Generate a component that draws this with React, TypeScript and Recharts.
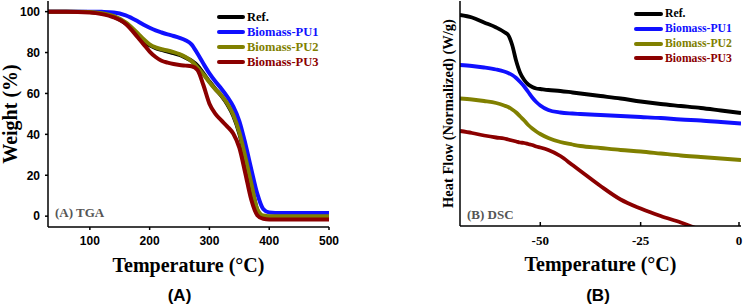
import React from "react";
import { LineChart, Line, XAxis, YAxis, Legend } from "recharts";

// TGA: weight (%) vs temperature (°C)
const tgaTemps = [30, 60, 100, 120, 140, 160, 180, 190, 200, 210, 220, 230, 240, 250, 260, 270, 280, 290, 300, 310, 320, 330, 340, 350, 360, 370, 380, 390, 400, 420, 500];
const tgaRef = [100, 100, 99.8, 99.2, 97.6, 94.3, 88.8, 85.6, 83.5, 82.2, 81.3, 80.5, 79.7, 78.8, 77.5, 76, 73.6, 69.8, 65.8, 62.2, 58.8, 54.6, 49, 40.5, 28.5, 15.5, 3, -0.5, -0.9, -0.9, -0.9];
const tgaPU1 = [100, 100, 100, 99.9, 99.6, 98.2, 95.3, 93.6, 92.1, 90.8, 89.8, 88.9, 88.1, 87.2, 86, 84, 79.5, 74.5, 69.8, 65.8, 62.3, 58.3, 53.5, 46.5, 35.5, 23, 11, 3.5, 1.8, 1.5, 1.5];
const tgaPU2 = [100, 100, 99.8, 99.2, 97.8, 94.8, 89.5, 86.5, 84, 82.5, 81.6, 81, 80.2, 79.2, 77.8, 75.8, 72.8, 69.3, 65.5, 62, 59, 55, 49.5, 41, 29, 16, 3.5, 0.3, 0, 0, 0];
const tgaPU3 = [100, 100, 99.6, 98.8, 97.2, 94, 87.5, 84, 80.5, 77.8, 76, 75.1, 74.4, 73.9, 73.6, 73.3, 71.5, 64, 55, 50, 46.8, 43.8, 40.3, 33.5, 21, 8, 0.5, -1.3, -1.6, -1.6, -1.6];
const tgaXTicks = [100, 200, 300, 400, 500];
const tgaYTicks = [0, 20, 40, 60, 80, 100];

// DSC: heat flow (normalized, arbitrary offset) vs temperature (°C)
const dscTemps = [-70, -67, -64, -61, -59, -58, -57, -56, -55, -54, -53, -52, -51, -50, -48, -45, -42, -40, -35, -30, -25, -20, -15, -10, -5, 0];
const dscRef = [4.22, 4.17, 4.07, 3.97, 3.88, 3.82, 3.62, 3.3, 3.06, 2.92, 2.83, 2.78, 2.75, 2.74, 2.72, 2.7, 2.67, 2.65, 2.6, 2.55, 2.49, 2.44, 2.4, 2.36, 2.31, 2.26];
const dscPU1 = [3.22, 3.2, 3.17, 3.13, 3.09, 3.06, 3.02, 2.96, 2.88, 2.79, 2.68, 2.57, 2.48, 2.41, 2.32, 2.27, 2.25, 2.24, 2.22, 2.2, 2.18, 2.16, 2.13, 2.11, 2.08, 2.05];
const dscPU2 = [2.55, 2.53, 2.5, 2.46, 2.41, 2.38, 2.33, 2.27, 2.19, 2.11, 2.02, 1.95, 1.89, 1.84, 1.76, 1.68, 1.63, 1.6, 1.56, 1.52, 1.49, 1.45, 1.41, 1.38, 1.35, 1.32];
const dscPU3 = [1.9, 1.86, 1.81, 1.77, 1.75, 1.73, 1.71, 1.69, 1.67, 1.66, 1.64, 1.62, 1.59, 1.57, 1.52, 1.4, 1.22, 1.1, 0.8, 0.53, 0.35, 0.2, 0.07, -0.08, null, null];
const dscXTicks = [-50, -25, 0];

const seriesNames = ["Ref.", "Biomass-PU1", "Biomass-PU2", "Biomass-PU3"];
const seriesKeys = ["ref", "pu1", "pu2", "pu3"];
const seriesColors = ["#000000", "#1010ff", "#808000", "#8b0000"];

const tgaData = tgaTemps.map((t, i) => ({ t, ref: tgaRef[i], pu1: tgaPU1[i], pu2: tgaPU2[i], pu3: tgaPU3[i] }));
const dscData = dscTemps.map((t, i) => ({ t, ref: dscRef[i], pu1: dscPU1[i], pu2: dscPU2[i], pu3: dscPU3[i] }));

const serif = "'Liberation Serif', 'Times New Roman', serif";
const sans = "'Liberation Sans', Arial, sans-serif";
const axisStroke = { stroke: "#000", strokeWidth: 1.5 };

// legend in series order (Ref. first), not sorted by name
function makeLegend(lineW: number, rowH: number, fontSize: number) {
  return () => (
    <div>
      {seriesNames.map((name, i) => (
        <div key={name} style={{ display: "flex", alignItems: "center", height: rowH }}>
          <span style={{ display: "inline-block", width: lineW, height: 4, borderRadius: 2, background: seriesColors[i], marginRight: 2 }} />
          <span style={{ fontFamily: serif, fontWeight: "bold", fontSize, color: seriesColors[i], lineHeight: 1 }}>{name}</span>
        </div>
      ))}
    </div>
  );
}

function DscTick({ x, y, payload }: any) {
  return (
    <g>
      <line x1={x} x2={x} y1={y} y2={y - 4} stroke="#000" strokeWidth={1.5} />
      <text x={x} y={y + 18.5} textAnchor="middle" fontFamily={serif} fontWeight="bold" fontSize={13} fill="#000">
        {payload.value}
      </text>
    </g>
  );
}

function Note({ text, left, cy, size, family, color, center }: any) {
  return (
    <div
      style={{
        position: "absolute",
        left: center ? left - 50 : left,
        width: center ? 100 : undefined,
        textAlign: center ? "center" : "left",
        top: cy - size / 2,
        fontFamily: family,
        fontWeight: "bold",
        fontSize: size,
        lineHeight: 1,
        color,
        whiteSpace: "nowrap",
      }}
    >
      {text}
    </div>
  );
}

export default function App() {
  return (
    <div style={{ position: "fixed", left: 0, top: 0, width: 743, height: 304, background: "#fff", overflow: "hidden" }}>
      <div style={{ position: "absolute", left: 0, top: 0 }}>
        <LineChart width={370} height={304} data={tgaData} margin={{ top: 1, right: 41, bottom: 47, left: 0 }}>
          <XAxis
            dataKey="t"
            type="number"
            domain={[30, 500]}
            ticks={tgaXTicks}
            allowDataOverflow
            height={30}
            tickSize={3}
            tickMargin={6}
            axisLine={axisStroke}
            tickLine={axisStroke}
            tick={{ fill: "#000", fontSize: 12, fontWeight: "bold", fontFamily: sans }}
            label={{ value: "Temperature (°C)", position: "bottom", offset: 1, style: { fontFamily: serif, fontWeight: "bold", fontSize: 20, fill: "#000" } }}
          />
          <XAxis xAxisId="top" orientation="top" type="number" domain={[0, 1]} height={0} tick={false} tickLine={false} axisLine={axisStroke} />
          <YAxis
            type="number"
            domain={[-5.3, 105.2]}
            ticks={tgaYTicks}
            allowDataOverflow
            width={48}
            tickSize={3}
            tickMargin={5}
            axisLine={axisStroke}
            tickLine={axisStroke}
            tick={{ fill: "#000", fontSize: 12, fontWeight: "bold", fontFamily: sans }}
            label={{ value: "Weight (%)", angle: -90, position: "insideLeft", offset: 10, style: { textAnchor: "middle", fontFamily: serif, fontWeight: "bold", fontSize: 20, fill: "#000" } }}
          />
          <YAxis yAxisId="right" orientation="right" type="number" domain={[0, 1]} width={0} tick={false} tickLine={false} axisLine={axisStroke} />
          <Legend
            layout="vertical"
            align="center"
            verticalAlign="middle"
            wrapperStyle={{ left: 217, top: 9.5, width: 120 }}
            content={makeLegend(28, 15, 12.5)}
          />
          {seriesKeys.map((k, i) => (
            <Line key={k} dataKey={k} name={seriesNames[i]} type="monotone" stroke={seriesColors[i]} strokeWidth={4} dot={false} isAnimationActive={false} />
          ))}
        </LineChart>
      </div>
      <div style={{ position: "absolute", left: 370, top: 0 }}>
        <LineChart width={373} height={304} data={dscData} margin={{ top: 1, right: 2, bottom: 48, left: 0 }}>
          <XAxis
            dataKey="t"
            type="number"
            domain={[-70, 0]}
            ticks={dscXTicks}
            allowDataOverflow
            height={30}
            tickSize={0}
            tickMargin={0}
            axisLine={axisStroke}
            tickLine={false}
            tick={<DscTick />}
            label={{ value: "Temperature (°C)", position: "bottom", offset: 1, style: { fontFamily: serif, fontWeight: "bold", fontSize: 20, fill: "#000" } }}
          />
          <XAxis xAxisId="top" orientation="top" type="number" domain={[0, 1]} height={0} tick={false} tickLine={false} axisLine={axisStroke} />
          <YAxis
            type="number"
            domain={[0, 4.5]}
            allowDataOverflow
            width={90}
            tick={false}
            tickLine={false}
            axisLine={axisStroke}
            label={{ value: "Heat Flow (Normalized) (W/g)", angle: -90, position: "insideLeft", offset: 78, style: { textAnchor: "middle", fontFamily: serif, fontWeight: "bold", fontSize: 14.5, fill: "#000" } }}
          />
          <YAxis yAxisId="right" orientation="right" type="number" domain={[0, 1]} width={0} tick={false} tickLine={false} axisLine={axisStroke} />
          <Legend
            layout="vertical"
            align="center"
            verticalAlign="middle"
            wrapperStyle={{ left: 264, top: 7, width: 110 }}
            content={makeLegend(29, 14.7, 11.7)}
          />
          {seriesKeys.map((k, i) => (
            <Line key={k} dataKey={k} name={seriesNames[i]} type="monotone" stroke={seriesColors[i]} strokeWidth={3.8} dot={false} connectNulls={false} isAnimationActive={false} />
          ))}
        </LineChart>
      </div>
      <Note text="(A) TGA" left={55} cy={212.7} size={13} family={serif} color="#555" />
      <Note text="(B) DSC" left={467} cy={214} size={13} family={serif} color="#555" />
      <Note text="(A)" left={179.5} cy={295} size={17} family={sans} color="#000" center />
      <Note text="(B)" left={598} cy={295} size={17} family={sans} color="#000" center />
    </div>
  );
}
